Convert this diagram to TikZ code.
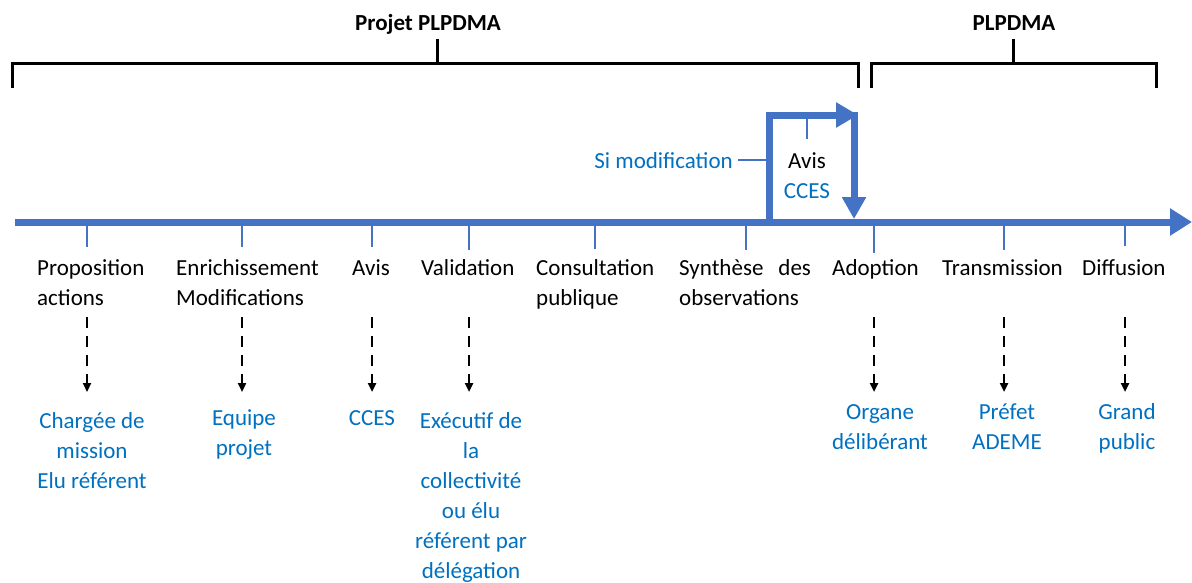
\documentclass[tikz,border=0pt]{standalone}
\usepackage{fontspec}
\setmainfont{Carlito}
\usepackage{xcolor}
\usepackage{tikz}
\usetikzlibrary{arrows.meta,positioning,calc}
\definecolor{flowblue}{RGB}{68,114,196}
\definecolor{txtblue}{RGB}{0,112,192}
\tikzset{
  txt/.style={font=\fontsize{23}{30}\selectfont, inner sep=0pt},
  headline/.style={txt, font=\fontsize{23}{30}\selectfont\bfseries, anchor=base},
  note/.style={txt, text width=60pt, align=flush center, anchor=base},
  flow/.style={line width=7pt, flowblue},
  tickmark/.style={line width=2.5pt, flowblue},
  bracket/.style={line width=3pt, black},
  handoff/.style={-{Triangle[length=9pt,width=8pt]}, line width=2.5pt, dash pattern=on 11pt off 8pt}
}
\begin{document}
\begin{tikzpicture}[
    x=1pt, y=-1pt,
    stage/.style={txt, text width=150pt, align=flush left, anchor=base west},
    actor/.style={txt, text=txtblue, text width=170pt, align=flush center, anchor=base}
]
\useasboundingbox (0,0) rectangle (1192,582);

% phases
\draw[bracket] (12,88) -- (12,63) -- (858,63) -- (858,88);
\draw[bracket] (437,63) -- (437,39);
\node[headline] (projtitle) at (428,30) {Projet PLPDMA};
\draw[bracket] (871,88) -- (871,63) -- (1156,63) -- (1156,88);
\draw[bracket] (1013,63) -- (1013,39);
\node[headline] (plantitle) at (1014,30) {PLPDMA};

% timeline
\coordinate (flowstart) at (15,222);
\coordinate (flowend) at (1192,222);
\draw[flow, -{Triangle[length=22pt,width=26pt]}] (flowstart) -- (flowend);

\foreach \s/\x/\len in {prop/87/21, enri/242/21, avis/372/21, vali/469/24, cons/595/23,
                        synt/746/24, adop/874/27, tran/1004/24, diff/1125/20}{
  \coordinate (\s) at (\x,226);
  \draw[tickmark] (\s) -- ++(0,\len);
}

% loop back
\coordinate (loopfoot) at (769,222);
\coordinate (looptop) at (858,115);
\coordinate (loopdrop) at (854,112);
\coordinate (loopland) at (854,219);
\draw[flow, -{Triangle[length=22pt,width=24pt]}] (loopfoot) |- (looptop);
\draw[flow, -{Triangle[length=22pt,width=23pt]}] (loopdrop) -- (loopland);
\draw[tickmark] (807,118) -- (807,139);
\node[note] (avisloop) at (807,168) {Avis\\\textcolor{txtblue}{CCES}};
\node[txt, text=txtblue, anchor=base east] (simod) at (733,168) {Si modification};
\draw[tickmark, shorten <=5pt, shorten >=3.5pt] (simod.east) -- (simod.east -| loopfoot);

% steps
\node[stage] (prop-txt) at (37,275) {Proposition\\actions};
\node[stage] (enri-txt) at (176,275) {Enrichissement\\Modifications};
\node[stage] (avis-txt) at (352,275) {Avis};
\node[stage] (vali-txt) at (421,275) {Validation};
\node[stage] (cons-txt) at (536,275) {Consultation\\publique};
\node[stage] (synt-txt) at (679,275) {Synthèse\hspace{15pt}des\\observations};
\node[stage] (adop-txt) at (832,275) {Adoption};
\node[stage] (tran-txt) at (942,275) {Transmission};
\node[stage] (diff-txt) at (1082,275) {Diffusion};

% who
\node[actor] (prop-who) at (92,428) {Chargée de\\mission\\Elu référent};
\node[actor] (enri-who) at (244,425) {Equipe\\projet};
\node[actor] (avis-who) at (372,425) {CCES};
\node[actor] (vali-who) at (471,428) {Exécutif de\\la\\collectivité\\ou élu\\référent par\\délégation};
\node[actor] (adop-who) at (880,419) {Organe\\délibérant};
\node[actor] (tran-who) at (1007,419) {Préfet\\ADEME};
\node[actor] (diff-who) at (1127,419) {Grand\\public};

\foreach \s in {prop, enri, avis, vali, adop, tran, diff}{
  \draw[handoff] ($(\s)+(0,91)$) -- ($(\s)+(0,166)$);
}

\end{tikzpicture}
\end{document}
